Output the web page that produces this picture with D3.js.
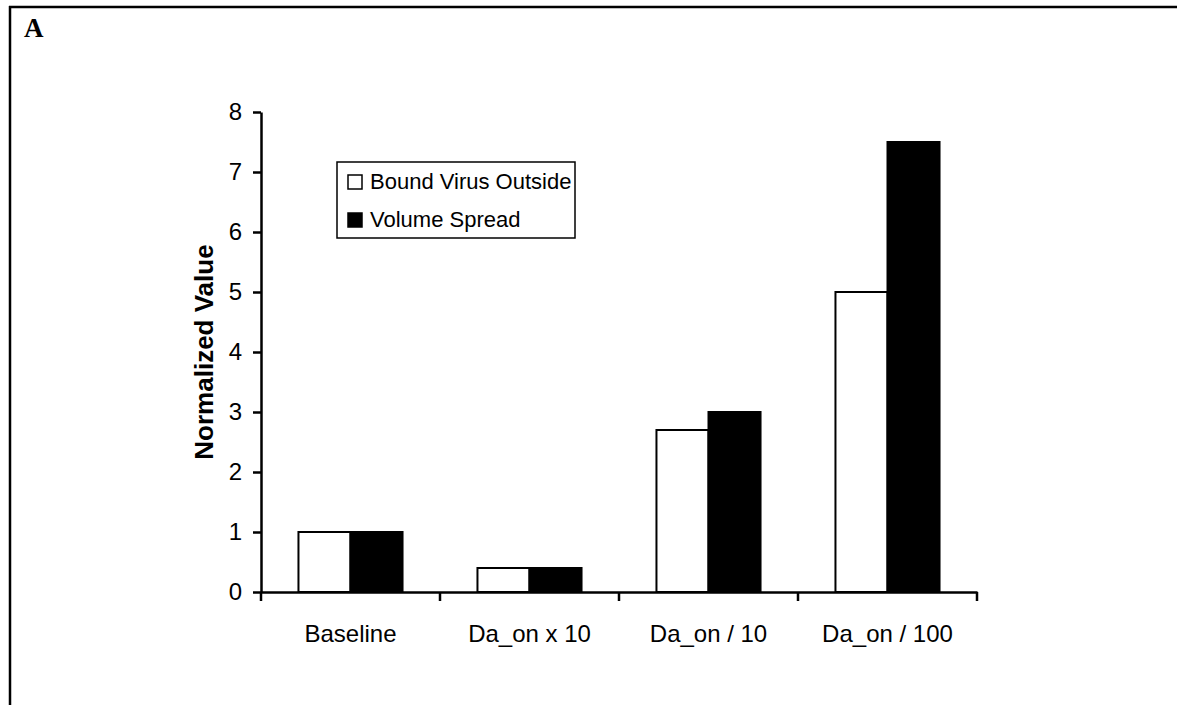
<!DOCTYPE html>
<html>
<head>
<meta charset="utf-8">
<script src="https://cdn.jsdelivr.net/npm/d3@7"></script>
<style>
  html, body { margin: 0; padding: 0; background: #fff; }
  svg { display: block; }
  text { font-family: "Liberation Sans", Arial, sans-serif; fill: #000; }
</style>
</head>
<body>
<svg id="chart" width="1177" height="705"></svg>
<script>
// Normalized outputs for each parameter setting
const categories = ["Baseline", "Da_on x 10", "Da_on / 10", "Da_on / 100"];
const seriesNames = ["Bound Virus Outside", "Volume Spread"];
const boundVirusOutside = [1.0, 0.4, 2.7, 5.0];
const volumeSpread = [1.0, 0.4, 3.0, 7.5];
const yTicks = [0, 1, 2, 3, 4, 5, 6, 7, 8];
const seriesFill = ["#ffffff", "#000000"];

const svg = d3.select("#chart");
const W = 1177, H = 705;

// panel frame: top and left rules
svg.append("line").attr("x1", 9).attr("x2", W).attr("y1", 7).attr("y2", 7)
  .attr("stroke", "#000").attr("stroke-width", 2.5);
svg.append("line").attr("x1", 10).attr("x2", 10).attr("y1", 6).attr("y2", H)
  .attr("stroke", "#000").attr("stroke-width", 2.5);

// panel letter
svg.append("text").attr("x", 24).attr("y", 37)
  .style("font-family", "'Liberation Serif', 'Times New Roman', serif")
  .style("font-weight", "bold").style("font-size", "27px").text("A");

const plot = { left: 261, right: 977, top: 112, bottom: 592 };

const y = d3.scaleLinear().domain([0, 8]).range([plot.bottom, plot.top]);
const x0 = d3.scaleBand().domain(categories).range([plot.left, plot.right]).padding(0);
const x1 = d3.scaleBand().domain(seriesNames).range([0, x0.bandwidth()])
  .paddingInner(0).paddingOuter(0.72);

const rows = categories.map((c, i) => ({
  cat: c,
  vals: [boundVirusOutside[i], volumeSpread[i]]
}));

// bars
const groups = svg.append("g").selectAll("g").data(rows).join("g")
  .attr("transform", d => `translate(${x0(d.cat)},0)`);
groups.selectAll("rect")
  .data(d => d.vals.map((v, k) => ({ name: seriesNames[k], v, k })))
  .join("rect")
  .attr("x", d => x1(d.name))
  .attr("width", x1.bandwidth())
  .attr("y", d => y(d.v))
  .attr("height", d => y(0) - y(d.v))
  .attr("fill", d => seriesFill[d.k])
  .attr("stroke", "#000")
  .attr("stroke-width", 2);

// y axis
const yAxis = svg.append("g").attr("transform", `translate(${plot.left},0)`)
  .call(d3.axisLeft(y).tickValues(yTicks).tickFormat(d3.format("d"))
    .tickSize(8).tickPadding(11).tickSizeOuter(0));
yAxis.select(".domain").attr("stroke-width", 2.5);
yAxis.selectAll(".tick line").attr("stroke-width", 2.5);
yAxis.selectAll(".tick text").style("font-size", "24px")
  .style("font-family", "'Liberation Sans', Arial, sans-serif");

// x axis: baseline with ticks at category boundaries
const xAxis = svg.append("g").attr("transform", `translate(0,${plot.bottom})`)
  .call(d3.axisBottom(x0).tickSize(0).tickPadding(33).tickSizeOuter(0));
xAxis.select(".domain").attr("stroke-width", 2.5);
xAxis.selectAll(".tick text").style("font-size", "24px")
  .style("font-family", "'Liberation Sans', Arial, sans-serif");
const bounds = categories.map(c => x0(c)).concat([x0(categories[categories.length - 1]) + x0.bandwidth()]);
xAxis.selectAll("line.bound").data(bounds).join("line").attr("class", "bound")
  .attr("x1", d => d).attr("x2", d => d).attr("y1", 0).attr("y2", 9)
  .attr("stroke", "#000").attr("stroke-width", 2.5);

// y axis title
svg.append("text")
  .attr("transform", `translate(213,352) rotate(-90)`)
  .attr("text-anchor", "middle")
  .style("font-weight", "bold").style("font-size", "26px")
  .text("Normalized Value");

// legend
const lg = svg.append("g").attr("transform", "translate(337,162)");
lg.append("rect").attr("width", 238).attr("height", 76)
  .attr("fill", "#fff").attr("stroke", "#000").attr("stroke-width", 1.5);
const items = lg.selectAll("g.item").data(seriesNames).join("g").attr("class", "item")
  .attr("transform", (d, i) => `translate(11,${13 + i * 38})`);
items.append("rect").attr("width", 14).attr("height", 14)
  .attr("fill", (d, i) => seriesFill[i]).attr("stroke", "#000").attr("stroke-width", 1.5);
items.append("text").attr("x", 22).attr("y", 14).style("font-size", "22px").text(d => d);
</script>
</body>
</html>
